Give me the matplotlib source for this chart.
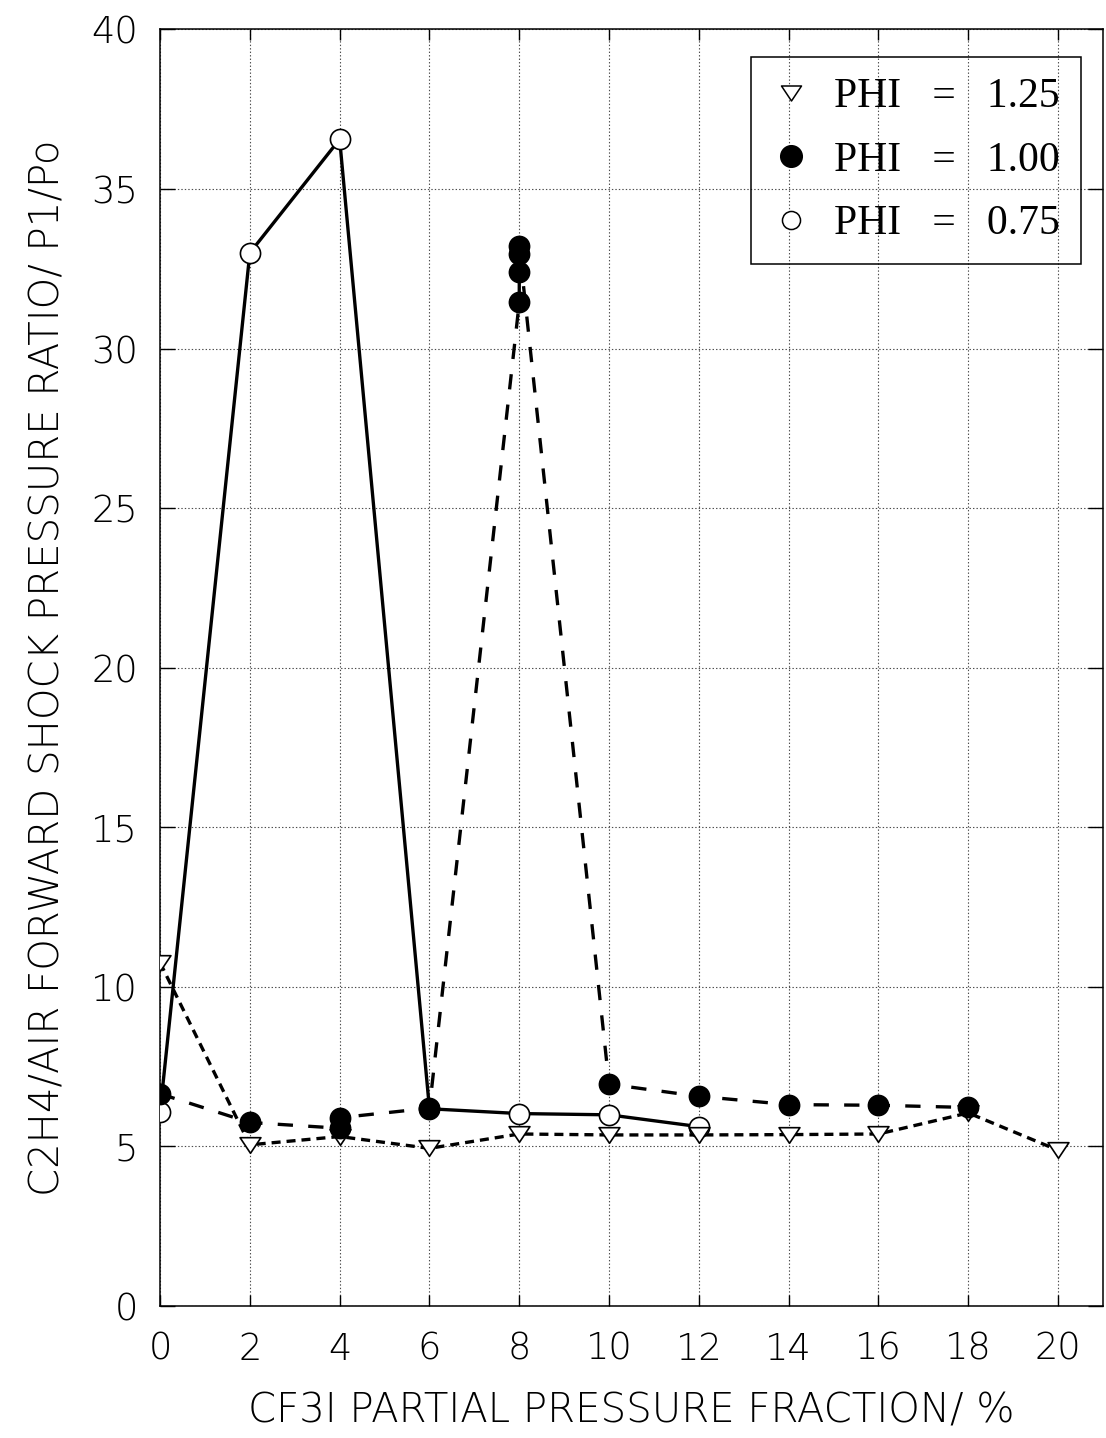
import matplotlib
matplotlib.use("Agg")
import matplotlib.pyplot as plt
from matplotlib.lines import Line2D
from matplotlib.path import Path

# CF3I partial pressure fraction (%) and forward shock pressure ratio P1/Po
x_phi125 = [0, 2, 4, 6, 8, 10, 12, 14, 16, 18, 20]
y_phi125 = [10.76, 5.05, 5.31, 4.94, 5.39, 5.36, 5.36, 5.37, 5.39, 6.05, 4.88]

x_phi100 = [0, 2, 4, 4, 6, 8, 8, 8, 8, 10, 12, 14, 16, 18]
y_phi100 = [6.65, 5.75, 5.57, 5.9, 6.2, 31.45, 32.4, 32.95, 33.2, 6.95, 6.57, 6.31, 6.29, 6.22]

x_phi075 = [0, 2, 4, 6, 8, 10, 12]
y_phi075 = [6.07, 33.0, 36.56, 6.18, 6.03, 5.99, 5.62]

labels = ["PHI   =   1.25", "PHI   =   1.00", "PHI   =   0.75"]
x_ticks = list(range(0, 21, 2))
y_ticks = list(range(0, 41, 5))

plt.rcParams["lines.scale_dashes"] = False
plt.rcParams["font.family"] = ["DejaVu Sans"]
plt.rcParams["font.weight"] = 200
plt.rcParams["axes.labelweight"] = 200

# flattened downward triangle
tri = Path([(-1.0, 0.75), (1.0, 0.75), (0.0, -0.75), (-1.0, 0.75)],
           [Path.MOVETO, Path.LINETO, Path.LINETO, Path.CLOSEPOLY])

fig = plt.figure(figsize=(11.06, 14.38), dpi=100)
ax = fig.add_axes([0.1447, 0.0918, 0.8526, 0.8877])

lw = 2.4
ms_c = 14.5
ms_t = 15.0
# connecting lines
ax.plot(x_phi125, y_phi125, color="black", lw=lw, ls=(0, (6.5, 4.3)), zorder=2)
ax.plot(x_phi100, y_phi100, color="black", lw=lw, ls=(0, (11, 11)), zorder=2)
ax.plot(x_phi075, y_phi075, color="black", lw=lw, ls="-", zorder=2)

# markers
ax.plot(x_phi075, y_phi075, ls="none", marker="o", ms=ms_c, mfc="white",
        mec="black", mew=1.2, zorder=3)
ax.plot(x_phi125, y_phi125, ls="none", marker=tri, ms=ms_t, mfc="white",
        mec="black", mew=1.2, zorder=4)
ax.plot(x_phi100, y_phi100, ls="none", marker="o", ms=ms_c, mfc="black",
        mec="black", mew=1.2, zorder=5)

ax.set_xlim(0, 21)
ax.set_ylim(0, 40)
ax.set_xticks(x_ticks)
ax.set_yticks(y_ticks)
ax.set_xticklabels([str(v) for v in x_ticks])
ax.set_yticklabels([str(v) for v in y_ticks])

ax.grid(True, linestyle=(0, (1, 1.5)), linewidth=0.8, color="0.3", zorder=0)
ax.set_axisbelow(True)

for s in ax.spines.values():
    s.set_linewidth(1.1)

ax.tick_params(axis="x", direction="in", top=True, bottom=True, length=8,
               width=1, labelsize=26.5, pad=18)
ax.tick_params(axis="y", direction="in", left=True, right=True, length=11,
               width=1, labelsize=26.5, pad=16)

ax.set_xlabel("CF3I PARTIAL PRESSURE FRACTION/ %", fontsize=29, labelpad=18,
              fontweight=200)
ax.set_ylabel("C2H4/AIR FORWARD SHOCK PRESSURE RATIO/ P1/Po", fontsize=29,
              labelpad=17, fontweight=200)

handles = [
    Line2D([], [], ls="none", marker=tri, ms=14.4, mfc="white", mec="black", mew=1.1),
    Line2D([], [], ls="none", marker="o", ms=15.5, mfc="black", mec="black", mew=1.1),
    Line2D([], [], ls="none", marker="o", ms=13, mfc="white", mec="black", mew=1.1),
]
leg = ax.legend(handles, labels, loc="upper right",
                bbox_to_anchor=(0.9767, 0.9785), borderaxespad=0,
                prop={"family": ["Liberation Serif", "DejaVu Serif"], "size": 30,
                      "weight": "normal"},
                frameon=True, fancybox=False, edgecolor="black", framealpha=1,
                borderpad=0.5, labelspacing=0.6, handlelength=0.9,
                handletextpad=0.6)
leg.get_frame().set_linewidth(1.1)
leg.get_frame().set_facecolor("none")

fig.savefig("out.png", dpi=100)
